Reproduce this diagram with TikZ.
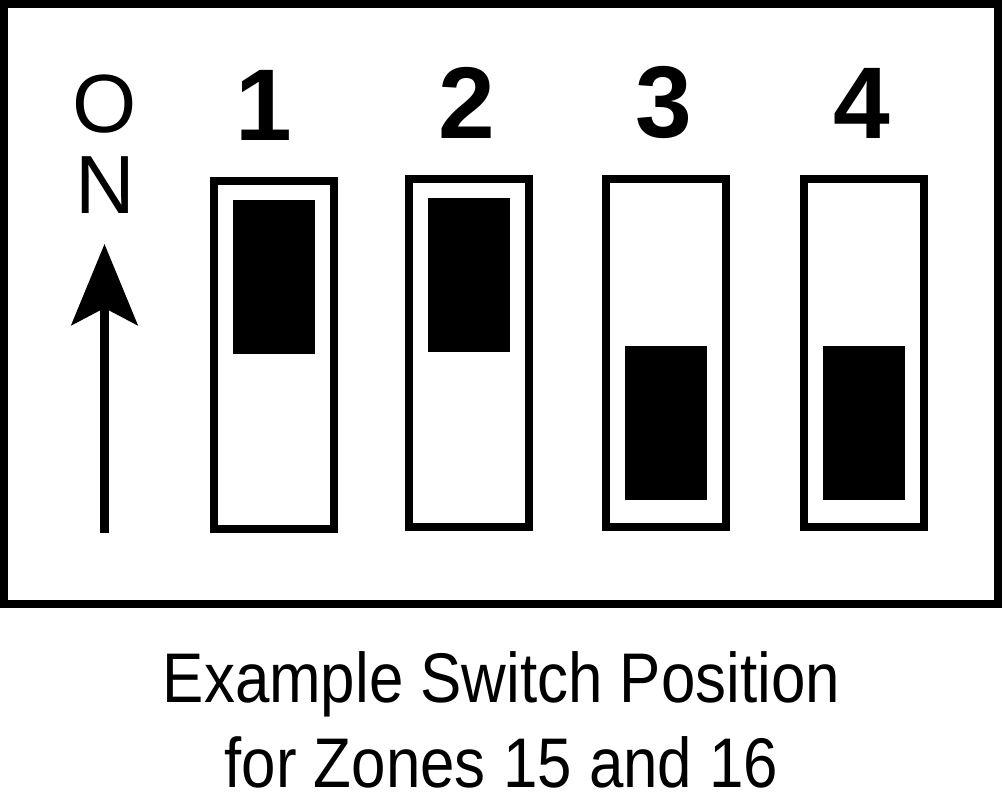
\documentclass[tikz,border=0pt]{standalone}
\usepackage{fontspec}
\setmainfont{Liberation Sans}
\newfontfamily\narrowfont[FakeStretch=0.88]{Liberation Sans}
\usetikzlibrary{arrows.meta,positioning}
\tikzset{
	switch/.style={rectangle,draw=black,line width=0.16cm,minimum width=2.4cm,minimum height=6.96cm,inner sep=0pt,outer sep=0pt},
	lever/.style={rectangle,fill=black,minimum width=1.64cm,minimum height=3.08cm,inner sep=0pt,outer sep=0pt},
	num/.style={font=\fontsize{58}{70}\selectfont\bfseries,inner sep=0pt},
	onlbl/.style={font=\fontsize{47}{56}\selectfont,inner sep=0pt,anchor=base},
	caption/.style={font=\narrowfont\fontsize{40}{48}\selectfont,inner sep=0pt,anchor=base},
	onarrow/.style={-{Stealth[length=1.62cm,width=1.32cm,inset=0.34cm]},line width=0.18cm}
}

\begin{document}
\begin{tikzpicture}[x=0.2mm,y=-0.2mm]
		\useasboundingbox (0,0) rectangle (1005,792);
		\draw[line width=0.16cm] (4,4) rectangle (998,604);
		
		\node[switch] (sw1) at (273.5,355) {};
		\node[switch] (sw2) at (468.5,353) {};
		\node[switch] (sw3) at (666,353) {};
		\node[switch] (sw4) at (864,353) {};
		
		\node[lever,below=0.38cm of sw1.north] (lv1) {};
		\node[lever,below=0.38cm of sw2.north] (lv2) {};
		\node[lever,above=0.54cm of sw3.south] (lv3) {};
		\node[lever,above=0.54cm of sw4.south] (lv4) {};
		
		\node[num,above=0.8cm of sw1.north,xshift=-0.2cm] (n1) {1};
		\node[num,above=0.8cm of sw2.north,xshift=-0.04cm] (n2) {2};
		\node[num,above=0.8cm of sw3.north,xshift=-0.04cm] (n3) {3};
		\node[num,above=0.8cm of sw4.north,xshift=-0.04cm] (n4) {4};
		
		\node[onlbl] (lo) at (105,132) {O};
		\node[onlbl] (ln) at (105,213) {N};
		\coordinate (arrbase) at (104.5,533);
		\coordinate (arrtip) at (104.5,244);
		\draw[onarrow] (arrbase) -- (arrtip);
		
		\node[caption] (cap1) at (501.5,702) {Example Switch Position};
		\node[caption] (cap2) at (501.5,787) {for Zones 15 and 16};
\end{tikzpicture}
\end{document}
